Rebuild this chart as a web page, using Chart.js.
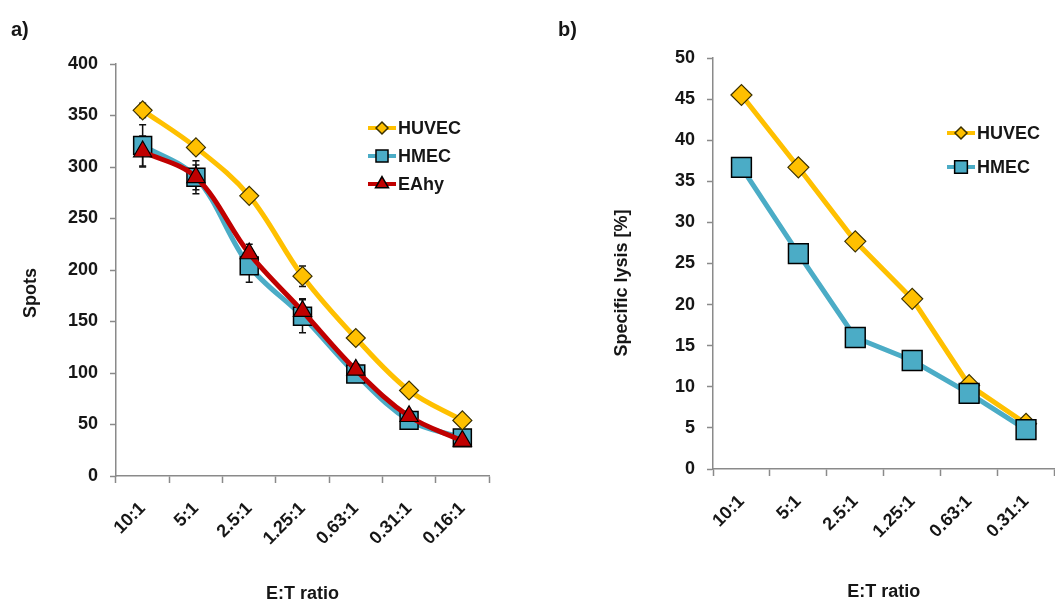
<!DOCTYPE html>
<html>
<head>
<meta charset="utf-8">
<script src="https://cdn.jsdelivr.net/npm/chart.js@4/dist/chart.umd.min.js"></script>
<style>
html,body{margin:0;padding:0;background:#fff;overflow:hidden;width:1055px;height:605px;position:relative;}
#wa{position:absolute;left:0;top:0;width:530px;height:605px;}
#wb{position:absolute;left:540px;top:0;width:530px;height:605px;}
</style>
</head>
<body>
<div id="wa"><canvas id="ca" width="530" height="605"></canvas></div>
<div id="wb"><canvas id="cb" width="530" height="605"></canvas></div>
<script>
// ---------- data ----------
const categoriesA = ['10:1', '5:1', '2.5:1', '1.25:1', '0.63:1', '0.31:1', '0.16:1'];
const huvecSpots  = [355, 319, 272, 194, 134, 83, 54];
const hmecSpots   = [321, 290, 204, 155, 99, 54, 37];
const eahySpots   = [315, 290, 216, 160, 103, 58, 34];
const huvecSpotsErr = [7, 6, 5, 10, 5, 4, 4];
const hmecSpotsErr  = [20, 16, 16, 16, 7, 5, 4];
const eahySpotsErr  = [15, 12, 9, 12, 6, 5, 4];

const categoriesB = ['10:1', '5:1', '2.5:1', '1.25:1', '0.63:1', '0.31:1'];
const huvecLysis  = [45.5, 36.7, 27.7, 20.7, 10.2, 5.5];
const hmecLysis   = [36.7, 26.2, 16.0, 13.2, 9.2, 4.8];

const seriesNamesA = ['HUVEC', 'HMEC', 'EAhy'];
const seriesNamesB = ['HUVEC', 'HMEC'];

// ---------- styles ----------
const FONT = '"Liberation Sans", Arial, sans-serif';
const TXT = '#161616';
const AXIS = '#8a8a8a';
const GOLD = '#FFC000', TEAL = '#4BACC6', RED = '#C00000';

Chart.defaults.font.family = FONT;
Chart.defaults.font.size = 18;
Chart.defaults.font.weight = 'bold';
Chart.defaults.color = TXT;

const deco = {
  id: 'deco',
  beforeDatasetsDraw(chart) {
    const ctx = chart.ctx, yS = chart.scales.y;
    chart.data.datasets.forEach((ds, i) => {
      if (!ds.errors) return;
      const meta = chart.getDatasetMeta(i);
      meta.data.forEach((pt, j) => {
        const v = ds.data[j], e = ds.errors[j];
        const yT = yS.getPixelForValue(v + e), yB = yS.getPixelForValue(v - e);
        ctx.save();
        ctx.strokeStyle = '#111'; ctx.lineWidth = 1.5;
        ctx.beginPath();
        ctx.moveTo(pt.x, yT); ctx.lineTo(pt.x, yB);
        ctx.moveTo(pt.x - 3.5, yT); ctx.lineTo(pt.x + 3.5, yT);
        ctx.moveTo(pt.x - 3.5, yB); ctx.lineTo(pt.x + 3.5, yB);
        ctx.stroke();
        ctx.restore();
      });
    });
  },
  afterDraw(chart, args, o) {
    const ctx = chart.ctx;
    ctx.save();
    ctx.fillStyle = TXT;
    // panel letter
    ctx.font = 'bold 20px ' + FONT;
    ctx.textAlign = 'left'; ctx.textBaseline = 'middle';
    ctx.fillText(o.letter, o.letterX, o.letterY);
    ctx.font = 'bold 18px ' + FONT;
    // y title
    ctx.save();
    ctx.translate(o.yTitleX, o.yTitleY);
    ctx.rotate(-Math.PI / 2);
    ctx.textAlign = 'center';
    ctx.fillText(o.yTitle, 0, 0);
    ctx.restore();
    // legend
    chart.data.datasets.forEach((ds, i) => {
      const y = o.legY[i], x0 = o.legX;
      ctx.strokeStyle = ds.borderColor; ctx.lineWidth = 4;
      ctx.beginPath(); ctx.moveTo(x0, y); ctx.lineTo(x0 + 28, y); ctx.stroke();
      ctx.fillStyle = ds.pointBackgroundColor; ctx.strokeStyle = ds.pointBorderColor;
      ctx.lineWidth = 1.5;
      Chart.helpers.drawPoint(ctx, {pointStyle: ds.pointStyle, rotation: 0, radius: o.legR[i], borderWidth: 1.5}, x0 + 14, y);
      ctx.fillStyle = TXT;
      ctx.textAlign = 'left'; ctx.textBaseline = 'middle';
      ctx.fillText(ds.label, x0 + 30, y + 1);
    });
    ctx.restore();
  }
};

function axisX(titleBottomPad, h) {
  return {
    type: 'category', offset: true,
    grid: {offset: true, drawOnChartArea: false, drawTicks: true, tickLength: 7, tickColor: AXIS, tickWidth: 1.5},
    border: {color: AXIS, width: 1.5},
    ticks: {minRotation: 45, maxRotation: 45, padding: 15, color: TXT, font: {size: 18, weight: 'bold'}},
    title: {display: true, text: 'E:T ratio', color: TXT, font: {size: 18, weight: 'bold'}, padding: {top: 0, bottom: titleBottomPad}},
    afterFit(s) { s.height = h; }
  };
}
function axisY(max, step, w) {
  return {
    min: 0, max: max,
    grid: {drawOnChartArea: false, drawTicks: true, tickLength: 6, tickColor: AXIS, tickWidth: 1.5},
    border: {color: AXIS, width: 1.5},
    ticks: {stepSize: step, padding: 12, color: TXT, font: {size: 18, weight: 'bold'}},
    afterFit(s) { s.width = w; }
  };
}

// ---------- panel a ----------
new Chart(document.getElementById('ca'), {
  type: 'line',
  data: {
    labels: categoriesA,
    datasets: [
      {label: seriesNamesA[0], data: huvecSpots, errors: huvecSpotsErr, order: 0,
       borderColor: GOLD, borderWidth: 5, tension: 0.35,
       pointStyle: 'rectRot', pointRadius: 9.5, pointBackgroundColor: GOLD, pointBorderColor: '#3a3000', pointBorderWidth: 1.2},
      {label: seriesNamesA[1], data: hmecSpots, errors: hmecSpotsErr, order: 2,
       borderColor: TEAL, borderWidth: 5, tension: 0.35,
       pointStyle: 'rect', pointRadius: 12.7, pointBackgroundColor: TEAL, pointBorderColor: '#000', pointBorderWidth: 1.5},
      {label: seriesNamesA[2], data: eahySpots, errors: eahySpotsErr, order: 1,
       borderColor: RED, borderWidth: 5, tension: 0.35,
       pointStyle: 'triangle', pointRadius: 10.5, pointBackgroundColor: RED, pointBorderColor: '#000', pointBorderWidth: 1.2}
    ]
  },
  options: {
    responsive: false, animation: false,
    layout: {padding: {top: 64, right: 41, left: 0, bottom: 0}},
    plugins: {
      legend: {display: false}, tooltip: {enabled: false},
      deco: {letter: 'a)', letterX: 11, letterY: 30, yTitle: 'Spots', yTitleX: 31, yTitleY: 293,
             legX: 368, legY: [128, 156, 184], legR: [6, 8.5, 7.5]}
    },
    scales: {x: axisX(0, 129), y: axisY(400, 50, 116)}
  },
  plugins: [deco]
});

// ---------- panel b ----------
new Chart(document.getElementById('cb'), {
  type: 'line',
  data: {
    labels: categoriesB,
    datasets: [
      {label: seriesNamesB[0], data: huvecLysis, order: 1,
       borderColor: GOLD, borderWidth: 5, tension: 0,
       pointStyle: 'rectRot', pointRadius: 10.5, pointBackgroundColor: GOLD, pointBorderColor: '#3a3000', pointBorderWidth: 1.2},
      {label: seriesNamesB[1], data: hmecLysis, order: 0,
       borderColor: TEAL, borderWidth: 5, tension: 0,
       pointStyle: 'rect', pointRadius: 14, pointBackgroundColor: TEAL, pointBorderColor: '#000', pointBorderWidth: 1.5}
    ]
  },
  options: {
    responsive: false, animation: false,
    layout: {padding: {top: 58, right: 9, left: 0, bottom: 0}},
    plugins: {
      legend: {display: false}, tooltip: {enabled: false},
      deco: {letter: 'b)', letterX: 18, letterY: 30, yTitle: 'Specific lysis [%]', yTitleX: 82, yTitleY: 283,
             legX: 407, legY: [133, 167], legR: [6, 9]}
    },
    scales: {x: axisX(2, 136), y: axisY(50, 5, 173)}
  },
  plugins: [deco]
});
</script>
</body>
</html>
